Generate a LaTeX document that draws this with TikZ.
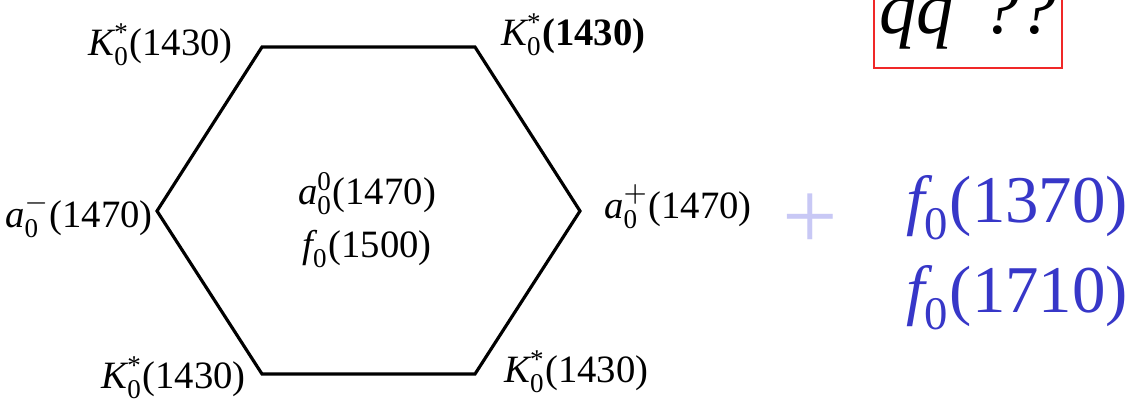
\documentclass[tikz,border=0pt]{standalone}
\usepackage{amsmath}
\usepackage{fontspec}
\setmainfont{Liberation Serif}
\usepackage{xcolor}
\usetikzlibrary{positioning}

\definecolor{nonetblue}{RGB}{55,55,200}
\definecolor{pluslight}{RGB}{200,200,245}
\definecolor{boxred}{RGB}{240,40,40}

\newcommand{\mes}[3]{$\textit{#1}_{\text{0}}^{#2}$#3}

\begin{document}
\begin{tikzpicture}[
    x=0.01cm, y=-0.01cm,
    lbl/.style={inner sep=1pt, font=\fontsize{11}{15}\selectfont},
    extra/.style={inner sep=1pt, text=nonetblue, align=left, font=\fontsize{19}{25.6}\selectfont},
    edge/.style={line width=0.9pt, line join=miter}
]
    \useasboundingbox (0,0) rectangle (1131,400);
    \clip (0,0) rectangle (1131,400);

    % Hexagon corners
    \coordinate (tl) at (262,47);
    \coordinate (tr) at (475,47);
    \coordinate (r)  at (580,211);
    \coordinate (br) at (475,374);
    \coordinate (bl) at (262,374);
    \coordinate (l)  at (157,211);

    % Corner states
    \node[lbl, left=0.25cm of tl, yshift=0.02cm] (ktl) {\mes{K}{\text{*}}{(1430)}};
    \node[lbl, right=0.22cm of tr, yshift=0.12cm] (ktr) {\mes{K}{\text{*}}{\textbf{(1430)}}};
    \node[lbl, left=0cm of l, yshift=-0.05cm] (am) {\mes{a}{-}{(1470)}};
    \node[lbl, right=0.2cm of r, yshift=0.04cm] (ap) {\mes{a}{+}{(1470)}};
    \node[lbl, left=0.12cm of bl, yshift=-0.04cm] (kbl) {\mes{K}{\text{*}}{(1430)}};
    \node[lbl, right=0.25cm of br, yshift=0.02cm] (kbr) {\mes{K}{\text{*}}{(1430)}};

    % Centre states
    \node[lbl, align=center] (mid) at (367,220) {\mes{a}{\text{0}}{(1470)}\\ $\textit{f}_{\text{0}}$(1500)};

    % Edges
    \draw[edge] (tl) -- (tr) -- (r) -- (br) -- (bl) -- (l) -- cycle;

    % Extra states
    \node[text=pluslight, font=\fontsize{28}{28}\selectfont] (plus) at (810,222) {+};
    \node[extra] (f0s) at (1017,253) {$\textit{f}_{\text{0}}$(1370)\\ $\textit{f}_{\text{0}}$(1710)};

    % Question box
    \node[draw=boxred, line width=0.8pt, inner sep=0pt, text depth=0.35cm, text height=1cm,
          minimum width=1.88cm, anchor=base, font=\fontsize{21}{21}\selectfont\itshape] (qq) at (968,33) {qq\hspace{0.3cm}??};
\end{tikzpicture}
\end{document}
